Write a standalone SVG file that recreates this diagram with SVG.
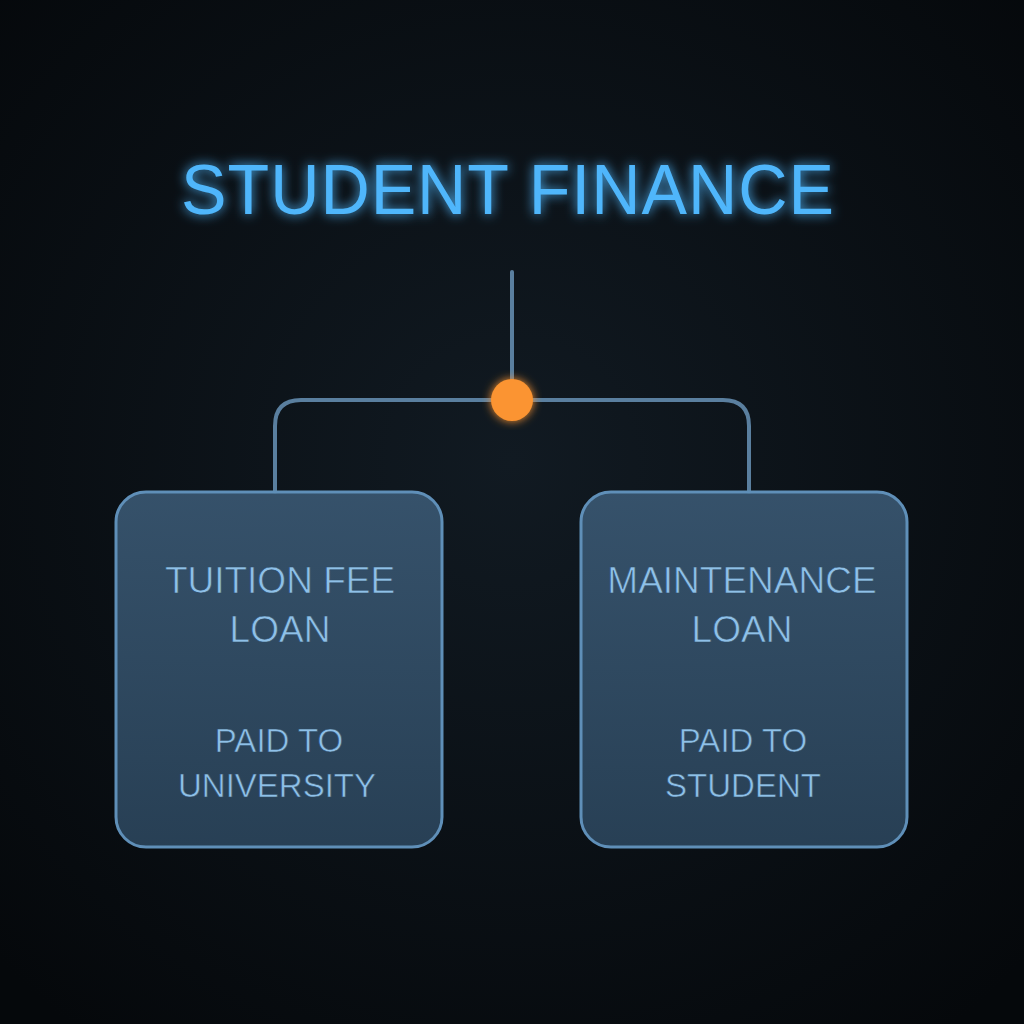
<svg xmlns="http://www.w3.org/2000/svg" width="1024" height="1024" viewBox="0 0 1024 1024">
<defs>
<radialGradient id="bg" cx="50%" cy="45%" r="70%">
<stop offset="0" stop-color="#111a22"/>
<stop offset="1" stop-color="#05080b"/>
</radialGradient>
<linearGradient id="boxfill" x1="0" y1="0" x2="0" y2="1">
<stop offset="0" stop-color="#3a5873"/>
<stop offset="1" stop-color="#2b455c"/>
</linearGradient>
<filter id="glow" x="-20%" y="-50%" width="140%" height="200%">
<feGaussianBlur stdDeviation="6" result="b"/>
<feMerge><feMergeNode in="b"/><feMergeNode in="SourceGraphic"/></feMerge>
</filter>
<filter id="soft" x="-20%" y="-20%" width="140%" height="140%">
<feGaussianBlur stdDeviation="5" result="b"/>
<feMerge><feMergeNode in="b"/><feMergeNode in="SourceGraphic"/></feMerge>
</filter>
<style>
.title{font-family:"Liberation Sans",Arial,sans-serif;font-size:70px;fill:#4fb6fb;letter-spacing:1px}
.box{fill:url(#boxfill);stroke:#5f8fb8;stroke-width:3;fill-opacity:0.9}
.lbl{font-family:"Liberation Sans",Arial,sans-serif;fill:#8ec0e8;text-anchor:middle;stroke:#2e4b66;stroke-width:0.6}
.big{font-size:37px}
.small{font-size:33px}
.conn{fill:none;stroke:#5a7f9f;stroke-width:4;stroke-linecap:round}
</style>
</defs>
<rect width="1024" height="1024" fill="url(#bg)"/>
<g id="title" filter="url(#glow)">
<text class="title" x="508" y="214" text-anchor="middle" textLength="654" lengthAdjust="spacingAndGlyphs">STUDENT FINANCE</text>
</g>
<g id="connectors">
<path class="conn" d="M512 272 V400"/>
<path class="conn" d="M275 492 V426 Q275 400 301 400 H723 Q749 400 749 426 V492"/>
<circle cx="512" cy="400" r="21" fill="#fb9430" filter="url(#soft)"/>
</g>
<g id="tuition">
<rect class="box" x="116" y="492" width="326" height="355" rx="30"/>
<text class="lbl big" x="280" y="593">TUITION FEE</text>
<text class="lbl big" x="280" y="642">LOAN</text>
<text class="lbl small" x="279" y="752">PAID TO</text>
<text class="lbl small" x="277" y="797">UNIVERSITY</text>
</g>
<g id="maintenance">
<rect class="box" x="581" y="492" width="326" height="355" rx="30"/>
<text class="lbl big" x="742" y="593">MAINTENANCE</text>
<text class="lbl big" x="742" y="642">LOAN</text>
<text class="lbl small" x="743" y="752">PAID TO</text>
<text class="lbl small" x="743" y="797">STUDENT</text>
</g>
</svg>
